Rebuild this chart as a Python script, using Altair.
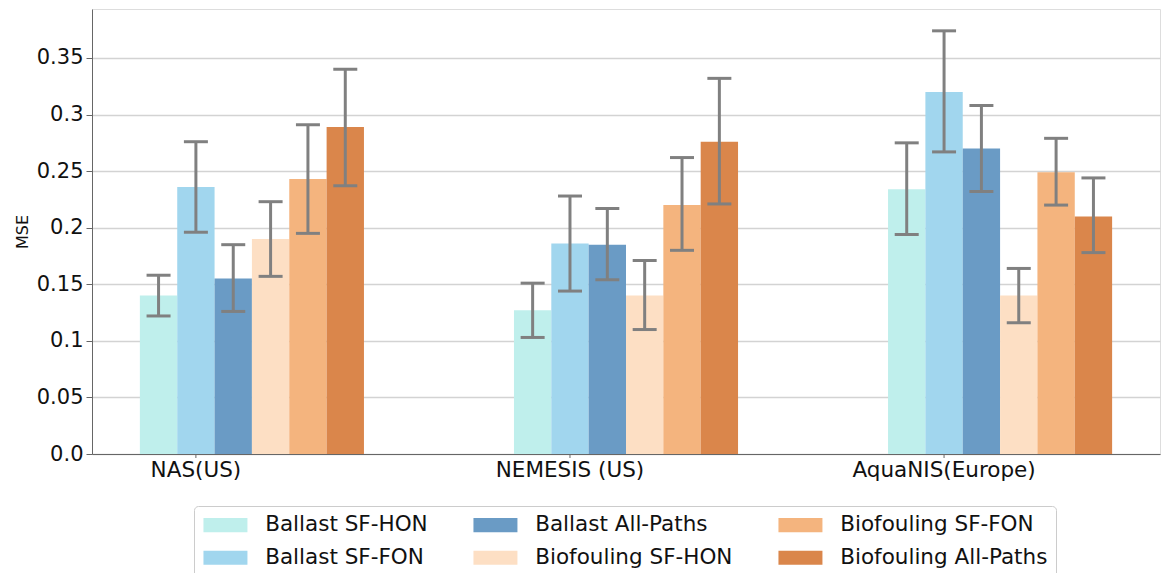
import altair as alt
import pandas as pd

groups = ["NAS(US)", "NEMESIS (US)", "AquaNIS(Europe)"]
series = ["Ballast SF-HON", "Ballast SF-FON", "Ballast All-Paths",
          "Biofouling SF-HON", "Biofouling SF-FON", "Biofouling All-Paths"]
colors = ["#bfefec", "#a1d6ee", "#6a9bc5", "#fddfc4", "#f4b47e", "#da864b"]

# values per series, one per group
mse = {
    "Ballast SF-HON":       [0.140, 0.127, 0.234],
    "Ballast SF-FON":       [0.236, 0.186, 0.320],
    "Ballast All-Paths":    [0.155, 0.185, 0.270],
    "Biofouling SF-HON":    [0.190, 0.140, 0.140],
    "Biofouling SF-FON":    [0.243, 0.220, 0.249],
    "Biofouling All-Paths": [0.289, 0.276, 0.210],
}
err_lo = {
    "Ballast SF-HON":       [0.122, 0.103, 0.194],
    "Ballast SF-FON":       [0.196, 0.144, 0.267],
    "Ballast All-Paths":    [0.126, 0.154, 0.232],
    "Biofouling SF-HON":    [0.157, 0.110, 0.116],
    "Biofouling SF-FON":    [0.195, 0.180, 0.220],
    "Biofouling All-Paths": [0.237, 0.221, 0.178],
}
err_hi = {
    "Ballast SF-HON":       [0.158, 0.151, 0.275],
    "Ballast SF-FON":       [0.276, 0.228, 0.374],
    "Ballast All-Paths":    [0.185, 0.217, 0.308],
    "Biofouling SF-HON":    [0.223, 0.171, 0.164],
    "Biofouling SF-FON":    [0.291, 0.262, 0.279],
    "Biofouling All-Paths": [0.340, 0.332, 0.244],
}
y_ticks = [0.0, 0.05, 0.1, 0.15, 0.2, 0.25, 0.3, 0.35]

rows = []
for s in series:
    for gi, g in enumerate(groups):
        rows.append({"group": g, "series": s, "mse": mse[s][gi],
                     "lo": err_lo[s][gi], "hi": err_hi[s][gi]})
df = pd.DataFrame(rows)

# group labels sit under the second bar of each group (as in the reference)
label_df = pd.DataFrame({"group": groups, "series": [series[1]] * len(groups)})

# legend order (row-major layout to mimic column-major reference)
legend_order = [series[0], series[2], series[4], series[1], series[3], series[5]]
legend_colors = [colors[series.index(s)] for s in legend_order]

FONT = "DejaVu Sans"

x_enc = alt.X("group:N", sort=groups,
              scale=alt.Scale(paddingInner=0.401, paddingOuter=0.128),
              axis=alt.Axis(title=None, labels=False, ticks=False,
                            domainColor="#666", grid=False))
xo_enc = alt.XOffset("series:N", scale=alt.Scale(domain=series, paddingInner=0, paddingOuter=0))
y_scale = alt.Scale(domain=[0, 0.3933], nice=False, zero=True)

base = alt.Chart(df)

bars = base.mark_bar(opacity=1).encode(
    x=x_enc,
    xOffset=xo_enc,
    y=alt.Y("mse:Q", scale=y_scale,
            axis=alt.Axis(title="MSE", values=y_ticks,
                          labelExpr="datum.value == 0 ? '0.0' : format(datum.value, '~g')",
                          labelFontSize=21, labelColor="#111", labelFont=FONT,
                          titleFont=FONT, titleFontSize=16, titleFontWeight="normal",
                          titleColor="#111", titlePadding=6,
                          tickSize=6, tickColor="#666", domainColor="#666",
                          labelPadding=3, grid=True, gridColor="#d3d3d3", gridWidth=1.5)),
    color=alt.Color("series:N",
                    scale=alt.Scale(domain=legend_order, range=legend_colors),
                    legend=alt.Legend(title=None, orient="none", legendX=102, legendY=497,
                                      columns=3, direction="horizontal",
                                      symbolType="M-3,-0.96H3V0.96H-3Z", symbolSize=215,
                                      symbolOffset=12.7, symbolStrokeWidth=0,
                                      labelFontSize=21.5, labelLimit=400,
                                      labelFont=FONT, labelColor="#111",
                                      labelOffset=29, columnPadding=44, rowPadding=10,
                                      padding=8, strokeColor="#cccccc", fillColor="white",
                                      cornerRadius=4)),
)

rules = base.mark_rule(color="#808080", strokeWidth=3).encode(
    x=x_enc, xOffset=xo_enc,
    y=alt.Y("lo:Q", scale=y_scale), y2="hi:Q",
)
caps_lo = base.mark_tick(color="#808080", thickness=3, size=24, opacity=1).encode(
    x=x_enc, xOffset=xo_enc, y=alt.Y("lo:Q", scale=y_scale),
)
caps_hi = base.mark_tick(color="#808080", thickness=3, size=24, opacity=1).encode(
    x=x_enc, xOffset=xo_enc, y=alt.Y("hi:Q", scale=y_scale),
)

lab_base = alt.Chart(label_df)
x_ticks = lab_base.mark_rule(color="#666", strokeWidth=1).encode(
    x=x_enc, xOffset=xo_enc, y=alt.value(445), y2=alt.value(449),
)
x_labels = lab_base.mark_text(font=FONT, fontSize=21.5, color="#111",
                              align="center", baseline="alphabetic").encode(
    x=x_enc, xOffset=xo_enc, y=alt.value(468), text="group:N",
)

chart = alt.layer(bars, rules, caps_lo, caps_hi, x_ticks, x_labels).properties(
    width=1068, height=445,
    autosize=alt.AutoSizeParams(type="none"),
    padding={"left": 92, "top": 9, "right": 6, "bottom": 119},
).configure_view(stroke="#666", strokeWidth=1).configure(background="white")

chart.save("out.html", embed_options={"renderer": "svg", "actions": False})
